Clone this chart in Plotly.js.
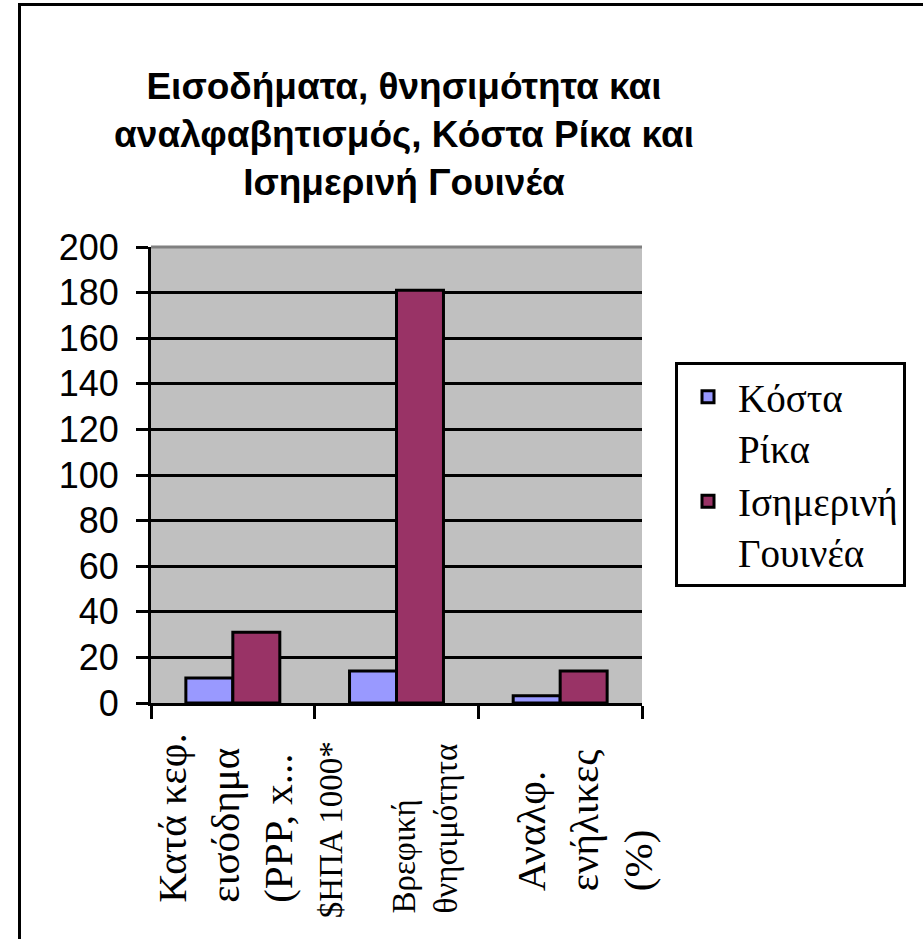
<!DOCTYPE html>
<html>
<head>
<meta charset="utf-8">
<script src="https://cdn.plot.ly/plotly-3.0.1.min.js"></script>
<style>
  html, body { margin: 0; padding: 0; background: #fff; overflow: hidden; }
  #chart { width: 923px; height: 939px; }
</style>
</head>
<body>
<div id="chart"></div>
<script>
// ---- data ----
const categories = ["Κατά κεφ. εισόδημα (PPP, x $ΗΠΑ 1000*)", "Βρεφική θνησιμότητα", "Αναλφ. ενήλικες (%)"];
const tickLabels = ["Κατά κεφ.<br>εισόδημα<br>(PPP, x...", "Βρεφική<br>θνησιμότητα", "Αναλφ.<br>ενήλικες<br>(%)"];
const unitNote = "$ΗΠΑ 1000*";
const seriesNames = ["Κόστα<br>Ρίκα", "Ισημερινή<br>Γουινέα"];
const costaRica = [11, 14, 3.2];
const eqGuinea = [31, 181, 14];
const titleText = "Εισοδήματα, θνησιμότητα και<br>αναλφαβητισμός, Κόστα Ρίκα και<br>Ισημερινή Γουινέα";

// ---- layout helpers (pixel geometry) ----
const W = 923, H = 939;
const M = { l: 151, r: 281, t: 247, b: 236, autoexpand: false };
const pw = W - M.l - M.r, ph = H - M.t - M.b;
const px = x => (x - M.l) / pw;
const py = y => (H - M.b - y) / ph;

const serif = "Liberation Serif, Times New Roman, serif";
const sans = "Liberation Sans, Arial, sans-serif";

const traces = [
  { type: "bar", name: seriesNames[0], x: categories, y: costaRica,
    marker: { color: "#9999FF", line: { color: "#000", width: 3 } } },
  { type: "bar", name: seriesNames[1], x: categories, y: eqGuinea,
    marker: { color: "#993366", line: { color: "#000", width: 3 } } }
];

// label placement (styles only)
const labelStyle = [
  { size: 41, xshift: -8, bottom: 905 },
  { size: 33, xshift: 28, bottom: 916 },
  { size: 41, xshift: 24, bottom: 893 }
];
const annotations = tickLabels.map((t, i) => ({
  xref: "x", yref: "paper", x: i, y: py(labelStyle[i].bottom),
  xanchor: "center", yanchor: "bottom", xshift: labelStyle[i].xshift,
  text: t, textangle: -90, align: "left", showarrow: false,
  font: { family: serif, size: labelStyle[i].size, color: "#000" }
}));
annotations.push({
  xref: "x", yref: "paper", x: 0.5, y: py(920), xanchor: "center", yanchor: "bottom",
  xshift: 16, text: unitNote, textangle: -90, align: "left", showarrow: false,
  font: { family: serif, size: 33, color: "#000" }
});

const layout = {
  width: W, height: H,
  margin: M,
  paper_bgcolor: "#fff",
  plot_bgcolor: "#C0C0C0",
  barmode: "group",
  bargap: 0.426,
  bargroupgap: 0,
  showlegend: true,
  title: {
    text: titleText,
    font: { family: sans, size: 37, color: "#000", weight: "bold" },
    xref: "container", x: 404 / W, xanchor: "center",
    yref: "container", y: 1 - 99 / H, yanchor: "top"
  },
  xaxis: {
    type: "category",
    range: [-0.5, 2.5], autorange: false,
    showticklabels: false,
    tickson: "boundaries",
    ticks: "outside", ticklen: 13, tickwidth: 3, tickcolor: "#000",
    showline: true, linecolor: "#000", linewidth: 3,
    showgrid: false, zeroline: false
  },
  yaxis: {
    range: [0, 200], autorange: false, dtick: 20, tick0: 0,
    ticks: "outside", ticklen: 12, tickwidth: 3, tickcolor: "#000",
    showline: true, linecolor: "#000", linewidth: 3,
    showgrid: true, gridcolor: "#000", gridwidth: 3,
    zeroline: false,
    tickfont: { family: sans, size: 36, color: "#000" },
    ticklabelstandoff: 10
  },
  legend: {
    x: px(675), xanchor: "left", y: py(362), yanchor: "top",
    bgcolor: "#fff", bordercolor: "#000", borderwidth: 3,
    font: { family: serif, size: 39, color: "#000" },
    valign: "top", itemwidth: 50, traceorder: "normal"
  },
  annotations: annotations,
  shapes: [
    { type: "line", xref: "paper", yref: "paper", x0: 0, x1: 1, y0: 1, y1: 1,
      line: { color: "#808080", width: 3 } },
    { type: "line", xref: "paper", yref: "paper", x0: px(19.5), x1: px(19.5), y0: py(3), y1: py(960),
      line: { color: "#000", width: 3 } },
    { type: "line", xref: "paper", yref: "paper", x0: px(18), x1: px(960), y0: py(4.5), y1: py(4.5),
      line: { color: "#000", width: 3 } }
  ]
};

Plotly.newPlot("chart", traces, layout, { displayModeBar: false, staticPlot: true });
</script>
</body>
</html>
